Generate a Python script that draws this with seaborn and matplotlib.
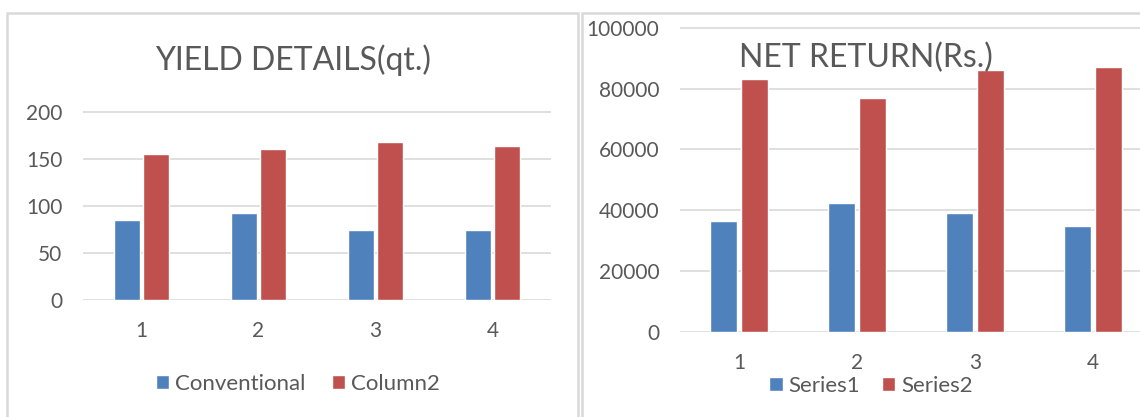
import pandas as pd
import seaborn as sns
import matplotlib.pyplot as plt
from matplotlib.patches import Rectangle

## chart data
categories = ['1', '2', '3', '4']
yield_conventional = [85, 93, 75, 75]
yield_column2 = [155, 161, 168, 164]
return_series1 = [36500, 42400, 39000, 34700]
return_series2 = [83200, 76900, 86200, 87100]

BLUE = '#4F81BD'
RED = '#C0504D'
TEXT = '#595959'
GRID = '#D9D9D9'

sns.set_style('white')
plt.rcParams['font.family'] = ['Lato', 'DejaVu Sans']

W, H = 1140, 417
fig = plt.figure(figsize=(W / 100, H / 100), dpi=100)


def px_axes(left, top, right, bottom):
    return fig.add_axes([left / W, 1 - bottom / H, (right - left) / W, (bottom - top) / H])


# panel frames
for x0, x1 in [(7, 578), (582, 1145)]:
    fig.patches.append(Rectangle((x0 / W, -0.05), (x1 - x0) / W, 1 - 13 / H + 0.05,
                                 transform=fig.transFigure, fill=False,
                                 edgecolor=GRID, linewidth=1.8))


def draw(ax, a, b, names, ymax, ticks, width, gap):
    df = pd.DataFrame({'cat': categories * 2,
                       'val': a + b,
                       'series': [names[0]] * 4 + [names[1]] * 4})
    sns.barplot(data=df, x='cat', y='val', hue='series', ax=ax,
                palette=[BLUE, RED], width=width, gap=gap, saturation=1,
                legend=True)
    ax.set_ylim(0, ymax)
    ax.set_yticks(ticks)
    ax.grid(axis='y', color=GRID, linewidth=1.2)
    ax.set_axisbelow(True)
    sns.despine(ax=ax, left=True, bottom=True)
    ax.tick_params(length=0, labelsize=15, colors=TEXT, pad=15)
    ax.set_xlabel('')
    ax.set_ylabel('')
    handles, labels = ax.get_legend_handles_labels()
    ax.get_legend().remove()
    return handles, labels


# left: yield
ax1 = px_axes(83, 112 - 188 * 0.01, 551, 300)
h1, l1 = draw(ax1, yield_conventional, yield_column2, ['Conventional', 'Column2'],
              202, [0, 50, 100, 150, 200], 0.5, 0.12)
ax1.set_xlim(-0.5, 3.5)
fig.text(293 / W, 1 - 60 / H, 'YIELD DETAILS(qt.)', ha='center', va='center',
         fontsize=23, color=TEXT)
fig.legend(h1, l1, loc='center', bbox_to_anchor=(298 / W, 1 - 384 / H), ncol=2,
           frameon=False, fontsize=16, labelcolor=TEXT, handlelength=0.6,
           handleheight=0.6, handletextpad=0.25, columnspacing=1.2)

# right: net return
span = 118
ax2 = px_axes(680, 332 - 304.3 * 1.01, 680 + span * 4.2, 332)
h2, l2 = draw(ax2, return_series1, return_series2, ['Series1', 'Series2'],
              101000, [0, 20000, 40000, 60000, 80000, 100000], 0.51, 0.1)
ax2.set_xlim(-0.5, 3.7)
fig.text(866 / W, 1 - 58 / H, 'NET RETURN(Rs.)', ha='center', va='center',
         fontsize=23, color=TEXT)
fig.legend(h2, l2, loc='center', bbox_to_anchor=(871 / W, 1 - 386 / H), ncol=2,
           frameon=False, fontsize=16, labelcolor=TEXT, handlelength=0.6,
           handleheight=0.6, handletextpad=0.25, columnspacing=1.0)

plt.savefig('out.png', dpi=100)
plt.close()
